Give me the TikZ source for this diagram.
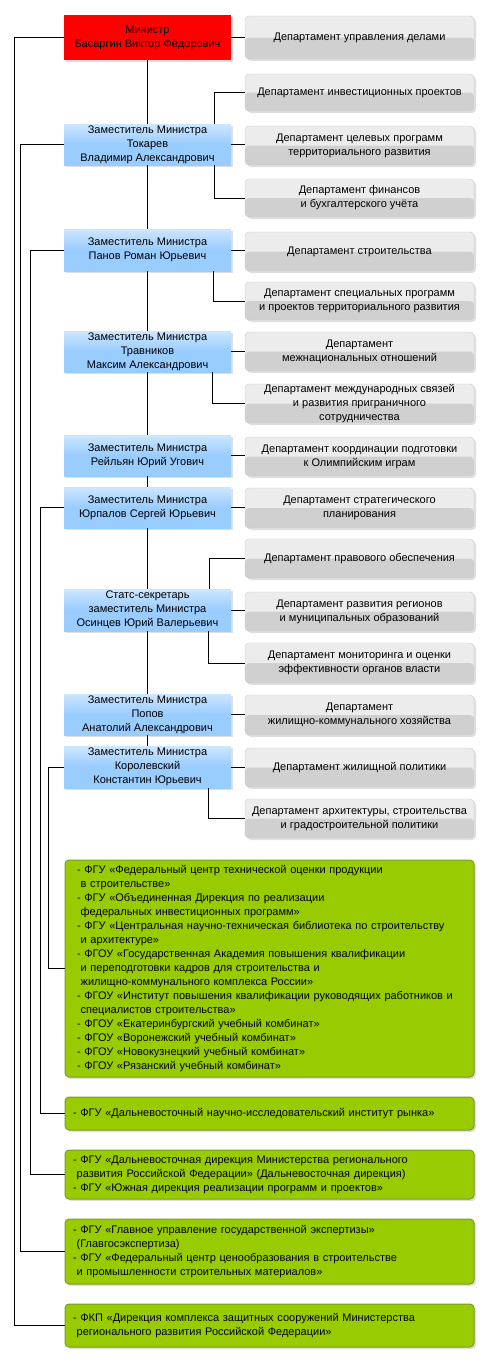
\documentclass[tikz,border=0pt]{standalone}
\usepackage{fontspec}
\setmainfont{Liberation Sans}
\usetikzlibrary{shadows}
\definecolor{minred}{RGB}{255,0,0}
\definecolor{depblue}{RGB}{153,204,255}
\definecolor{depbluetop}{RGB}{205,230,255}
\definecolor{depttop}{RGB}{236,236,236}
\definecolor{deptlow}{RGB}{208,208,208}
\definecolor{deptedge}{RGB}{200,200,200}
\definecolor{orggreen}{RGB}{153,204,0}
\definecolor{orgedge}{RGB}{122,158,36}
\tikzset{
  boxfont/.style={font=\fontsize{11}{14}\selectfont},
  shade/.style={drop shadow={shadow xshift=2pt,shadow yshift=-2pt,opacity=0.25}},
  chief/.style={boxfont,shade,fill=minred,minimum width=167pt,align=center,inner sep=0pt},
  deputy/.style={boxfont,shade,top color=depbluetop,bottom color=depblue,middle color=depblue,minimum width=167pt,align=center,inner sep=0pt},
  dept/.style={boxfont,shade,rounded corners=4pt,fill=depttop,draw=deptedge,minimum width=229pt,align=center,inner sep=0pt,
    path picture={\fill[deptlow] (path picture bounding box.west) rectangle (path picture bounding box.south east);}},
  org/.style={boxfont,shade,rounded corners=4pt,fill=orggreen,draw=orgedge,line width=1pt,minimum width=409pt,text width=393pt,align=left,inner xsep=8pt,inner ysep=0pt},
  link/.style={black,line width=0.8pt}
}
\begin{document}
\begin{tikzpicture}[x=1pt,y=-1pt]
  \useasboundingbox (0,0) rectangle (490,1363);
  \node[chief,minimum height=45pt] (minister) at (147.5,37.5) {Министр\\Басаргин Виктор Фёдорович};
  \node[deputy,minimum height=41pt] (tokarev) at (147.5,144.5) {Заместитель Министра\\Токарев\\Владимир Александрович};
  \node[deputy,minimum height=42pt] (panov) at (147.5,250) {Заместитель Министра\\Панов Роман Юрьевич};
  \node[deputy,minimum height=41pt] (travnikov) at (147.5,351.5) {Заместитель Министра\\Травников\\Максим Александрович};
  \node[deputy,minimum height=41pt] (reilyan) at (147.5,455.5) {Заместитель Министра\\Рейльян Юрий Угович};
  \node[deputy,minimum height=41pt] (yurpalov) at (147.5,507.5) {Заместитель Министра\\Юрпалов Сергей Юрьевич};
  \node[deputy,minimum height=42pt] (osintsev) at (147.5,610) {Статс-секретарь\\заместитель Министра\\Осинцев Юрий Валерьевич};
  \node[deputy,minimum height=41pt] (popov) at (147.5,714.5) {Заместитель Министра\\Попов\\Анатолий Александрович};
  \node[deputy,minimum height=42pt] (korolevsky) at (147.5,767) {Заместитель Министра\\Королевский\\Константин Юрьевич};

  \node[dept,minimum height=43pt] (affairs) at (359.5,37.5) {Департамент управления делами};
  \node[dept,minimum height=37pt] (invest) at (359.5,92.5) {Департамент инвестиционных проектов};
  \node[dept,minimum height=39pt] (target) at (359.5,145.5) {Департамент целевых программ\\территориального развития};
  \node[dept,minimum height=38pt] (finance) at (359.5,198) {Департамент финансов\\и бухгалтерского учёта};
  \node[dept,minimum height=39pt] (build) at (359.5,251.5) {Департамент строительства};
  \node[dept,minimum height=38pt] (special) at (359.5,301) {Департамент специальных программ\\и проектов территориального развития};
  \node[dept,minimum height=39pt] (ethnic) at (359.5,351.5) {Департамент\\межнациональных отношений};
  \node[dept,minimum height=39pt] (intl) at (359.5,403.5) {Департамент международных связей\\и развития приграничного\\сотрудничества};
  \node[dept,minimum height=39pt] (olymp) at (359.5,456.5) {Департамент координации подготовки\\к Олимпийским играм};
  \node[dept,minimum height=40pt] (strat) at (359.5,508) {Департамент стратегического\\планирования};
  \node[dept,minimum height=39pt] (legal) at (359.5,558.5) {Департамент правового обеспечения};
  \node[dept,minimum height=39pt] (regions) at (359.5,611.5) {Департамент развития регионов\\и муниципальных образований};
  \node[dept,minimum height=40pt] (monitor) at (359.5,663) {Департамент мониторинга и оценки\\эффективности органов власти};
  \node[dept,minimum height=40pt] (utility) at (359.5,715) {Департамент\\жилищно-коммунального хозяйства};
  \node[dept,minimum height=39pt] (housing) at (359.5,767.5) {Департамент жилищной политики};
  \node[dept,minimum height=39pt] (archit) at (359.5,818.5) {Департамент архитектуры, строительства\\и градостроительной политики};

  \node[org,minimum height=217pt,inner xsep=12pt,text width=385pt] (orgA) at (269.5,968.5) {- ФГУ «Федеральный центр технической оценки продукции\\\ в строительстве»\\- ФГУ «Объединенная Дирекция по реализации\\\ федеральных инвестиционных программ»\\- ФГУ «Центральная научно-техническая библиотека по строительству\\\ и архитектуре»\\- ФГОУ «Государственная Академия повышения квалификации\\\ и переподготовки кадров для строительства и\\\ жилищно-коммунального комплекса России»\\- ФГОУ «Институт повышения квалификации руководящих работников и\\\ специалистов строительства»\\- ФГОУ «Екатеринбургский учебный комбинат»\\- ФГОУ «Воронежский учебный комбинат»\\- ФГОУ «Новокузнецкий учебный комбинат»\\- ФГОУ «Рязанский учебный комбинат»};
  \node[org,minimum height=33pt] (orgB) at (269.5,1113.5) {- ФГУ «Дальневосточный научно-исследовательский институт рынка»};
  \node[org,minimum height=49pt] (orgC) at (269.5,1174.5) {- ФГУ «Дальневосточная дирекция Министерства регионального\\\ развития Российской Федерации» (Дальневосточная дирекция)\\- ФГУ «Южная дирекция реализации программ и проектов»};
  \node[org,minimum height=65pt] (orgD) at (269.5,1251.5) {- ФГУ «Главное управление государственной экспертизы»\\\ (Главгосэкспертиза)\\- ФГУ «Федеральный центр ценообразования в строительстве\\\ и промышленности строительных материалов»};
  \node[org,minimum height=43pt] (orgE) at (269.5,1325.5) {- ФКП «Дирекция комплекса защитных сооружений Министерства\\\ регионального развития Российской Федерации»};

  \foreach \a/\b in {minister/tokarev,tokarev/panov,panov/travnikov,travnikov/reilyan,reilyan/yurpalov,yurpalov/osintsev,osintsev/popov,popov/korolevsky}
    \draw[link] (\a.south) -- (\b.north);

  \draw[link] (minister.east) -- (minister.east -| affairs.west);
  \draw[link] (tokarev.east) -- (tokarev.east -| target.west);
  \draw[link] (panov.east) -- (panov.east -| build.west);
  \draw[link] (travnikov.east) -- (travnikov.east -| ethnic.west);
  \draw[link] (reilyan.east) -- (reilyan.east -| olymp.west);
  \draw[link] (yurpalov.east) -- (yurpalov.east -| strat.west);
  \draw[link] (osintsev.east) -- (osintsev.east -| regions.west);
  \draw[link] (popov.east) -- (popov.east -| utility.west);
  \draw[link] (korolevsky.east) -- (korolevsky.east -| housing.west);

  \draw[link] ([xshift=-17pt]tokarev.north east) |- (invest.west);
  \draw[link] ([xshift=-17pt]tokarev.south east) |- (finance.west);
  \draw[link] ([xshift=-18pt]panov.south east) |- (special.west);
  \draw[link] ([xshift=-19pt]travnikov.south east) |- (intl.west);
  \draw[link] ([xshift=-22pt]osintsev.north east) |- (legal.west);
  \draw[link] ([xshift=-23pt]osintsev.south east) |- (monitor.west);
  \draw[link] ([xshift=-23pt]korolevsky.south east) |- (archit.west);

  \draw[link] (minister.west) -- ++(-49,0) |- (orgE.west);
  \draw[link] (tokarev.west) -- ++(-43,0) |- (orgD.west);
  \draw[link] (panov.west) -- ++(-33,0) |- (orgC.west);
  \draw[link] (yurpalov.west) -- ++(-23,0) |- (orgB.west);
  \draw[link] (korolevsky.west) -- ++(-15,0) |- (orgA.west);
\end{tikzpicture}
\end{document}
